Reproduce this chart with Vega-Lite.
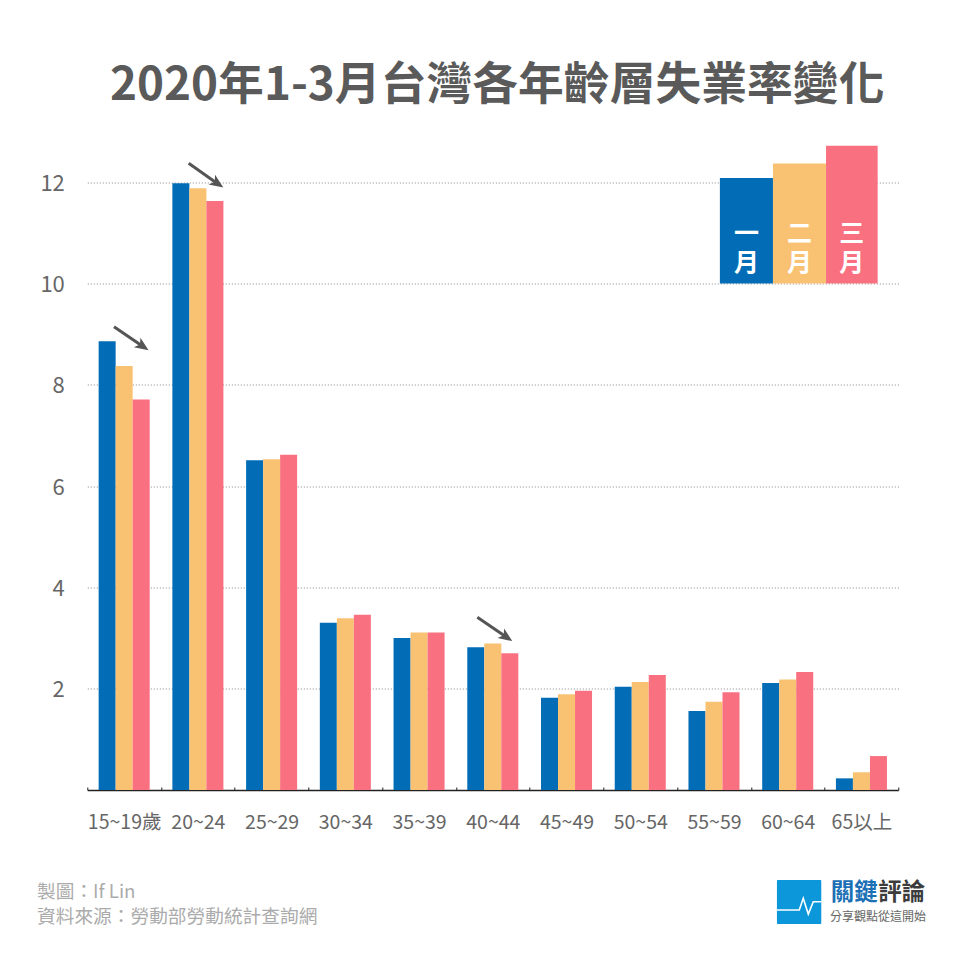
{
"$schema":"https://vega.github.io/schema/vega-lite/v6.json",
"width":811,"height":658.5,"autosize":{"type":"none"},
"padding":{"left":87.3,"top":131.5,"right":61.7,"bottom":170},
"background":"white",
"config":{"font":"Noto Sans CJK TC","view":{"stroke":null}},
"title":{"text":"2020年1-3月台灣各年齡層失業率變化","anchor":"start","frame":"group","dx":22.7,"offset":22,"fontSize":45.8,"fontWeight":"bold","color":"#5A5A5A","font":"Noto Sans CJK TC"},
"datasets":{
"bars":[
{"age":"15~19歲","month":"一月","rate":8.86},{"age":"15~19歲","month":"二月","rate":8.37},{"age":"15~19歲","month":"三月","rate":7.71},
{"age":"20~24","month":"一月","rate":11.98},{"age":"20~24","month":"二月","rate":11.88},{"age":"20~24","month":"三月","rate":11.63},
{"age":"25~29","month":"一月","rate":6.51},{"age":"25~29","month":"二月","rate":6.53},{"age":"25~29","month":"三月","rate":6.62},
{"age":"30~34","month":"一月","rate":3.30},{"age":"30~34","month":"二月","rate":3.39},{"age":"30~34","month":"三月","rate":3.46},
{"age":"35~39","month":"一月","rate":3.00},{"age":"35~39","month":"二月","rate":3.11},{"age":"35~39","month":"三月","rate":3.11},
{"age":"40~44","month":"一月","rate":2.82},{"age":"40~44","month":"二月","rate":2.89},{"age":"40~44","month":"三月","rate":2.70},
{"age":"45~49","month":"一月","rate":1.82},{"age":"45~49","month":"二月","rate":1.89},{"age":"45~49","month":"三月","rate":1.96},
{"age":"50~54","month":"一月","rate":2.04},{"age":"50~54","month":"二月","rate":2.13},{"age":"50~54","month":"三月","rate":2.27},
{"age":"55~59","month":"一月","rate":1.56},{"age":"55~59","month":"二月","rate":1.74},{"age":"55~59","month":"三月","rate":1.93},
{"age":"60~64","month":"一月","rate":2.11},{"age":"60~64","month":"二月","rate":2.18},{"age":"60~64","month":"三月","rate":2.33},
{"age":"65以上","month":"一月","rate":0.23},{"age":"65以上","month":"二月","rate":0.35},{"age":"65以上","month":"三月","rate":0.67}],
"key":[
{"month":"一月","a":8.58,"b":9.30,"lo":10,"hi":12.08},
{"month":"二月","a":9.30,"b":10.02,"lo":10,"hi":12.37},
{"month":"三月","a":10.02,"b":10.72,"lo":10,"hi":12.72}],
"keyText":[
{"t":"一","a":8.94,"v":10.97},{"t":"月","a":8.94,"v":10.4},
{"t":"二","a":9.66,"v":10.97},{"t":"月","a":9.66,"v":10.4},
{"t":"三","a":10.37,"v":10.97},{"t":"月","a":10.37,"v":10.4}],
"arrows":[
{"a":0.362,"v":9.147,"a2":0.745,"v2":8.766},
{"a":1.375,"v":12.373,"a2":1.758,"v2":11.98},
{"a":5.29,"v":3.41,"a2":5.678,"v2":3.026}],
"foot":[{"t":"製圖：If Lin","a":-0.682,"v":-2.014},{"t":"資料來源：勞動部勞動統計查詢網","a":-0.682,"v":-2.507}],
"logo":[{"a":9.354,"a2":9.955,"v":-1.777,"v2":-2.646}],
"pulse":[{"i":0,"a":9.354,"v":-2.369},{"i":1,"a":9.657,"v":-2.369},{"i":2,"a":9.711,"v":-2.139},{"i":3,"a":9.779,"v":-2.449},{"i":4,"a":9.847,"v":-2.206},{"i":5,"a":9.955,"v":-2.206}]
},
"layer":[
{"data":{"name":"bars"},"mark":{"type":"bar"},
"encoding":{
"x":{"field":"age","type":"nominal","sort":null,"scale":{"paddingInner":0,"paddingOuter":0},
"axis":{"title":null,"labelAngle":0,"labelFontSize":19.5,"labelColor":"#666666","labelPadding":26,"domainColor":"#222222","domainWidth":1.5,"tickBand":"extent","tickColor":"#222222","tickSize":-3,"grid":false}},
"xOffset":{"field":"month","sort":["一月","二月","三月"],"scale":{"paddingInner":0,"paddingOuter":0.667}},
"y":{"field":"rate","type":"quantitative","scale":{"domain":[0,13],"nice":false},
"axis":{"title":null,"values":[2,4,6,8,10,12],"domain":false,"ticks":false,"labelFontSize":22,"labelColor":"#666666","labelPadding":23,"labelOffset":1,"grid":true,"gridColor":"#888888","gridDash":[1,2],"gridWidth":1}},
"color":{"field":"month","scale":{"domain":["一月","二月","三月"],"range":["#026DB6","#F9C273","#F97080"]},"legend":null}}},
{"data":{"name":"key"},"mark":{"type":"bar"},
"encoding":{
"x":{"field":"a","type":"quantitative","scale":{"domain":[0,11],"nice":false,"zero":false},"axis":null},
"x2":{"field":"b"},
"y":{"field":"lo","type":"quantitative"},
"y2":{"field":"hi"},
"color":{"field":"month","legend":null}}},
{"data":{"name":"keyText"},"mark":{"type":"text","fontSize":25,"color":"white","fontWeight":"bold","align":"center","baseline":"middle"},
"encoding":{"x":{"field":"a","type":"quantitative","scale":{"domain":[0,11],"nice":false,"zero":false},"axis":null},"y":{"field":"v","type":"quantitative"},"text":{"field":"t"}}},
{"data":{"name":"arrows"},"mark":{"type":"rule","color":"#555555","strokeWidth":3},
"encoding":{"x":{"field":"a","type":"quantitative","scale":{"domain":[0,11],"nice":false,"zero":false},"axis":null},"x2":{"field":"a2"},"y":{"field":"v","type":"quantitative"},"y2":{"field":"v2"}}},
{"data":{"name":"arrows"},"mark":{"type":"point","filled":true,"opacity":1,"color":"#555555","size":240,"angle":124.6,"shape":"M0,-1L0.75,0.8L0,0.35L-0.75,0.8Z"},
"encoding":{"x":{"field":"a2","type":"quantitative","scale":{"domain":[0,11],"nice":false,"zero":false},"axis":null},"y":{"field":"v2","type":"quantitative"}}},
{"data":{"name":"foot"},"mark":{"type":"text","fontSize":18.7,"color":"#ABABAB","align":"left","baseline":"middle"},
"encoding":{"x":{"field":"a","type":"quantitative","scale":{"domain":[0,11],"nice":false,"zero":false},"axis":null},"y":{"field":"v","type":"quantitative"},"text":{"field":"t"}}},
{"data":{"name":"logo"},"mark":{"type":"rect","color":"#0B97DA","cornerRadius":1},
"encoding":{"x":{"field":"a","type":"quantitative","scale":{"domain":[0,11],"nice":false,"zero":false},"axis":null},"x2":{"field":"a2"},"y":{"field":"v","type":"quantitative"},"y2":{"field":"v2"}}},
{"data":{"name":"pulse"},"mark":{"type":"line","color":"white","strokeWidth":1.6},
"encoding":{"x":{"field":"a","type":"quantitative","scale":{"domain":[0,11],"nice":false,"zero":false},"axis":null},"y":{"field":"v","type":"quantitative"},"order":{"field":"i"}}},
{"data":{"values":[{"t":"關鍵","a":10.083,"v":-2.04}]},"mark":{"type":"text","fontSize":23.5,"fontWeight":"bold","color":"#1A6FB5","align":"left","baseline":"middle"},
"encoding":{"x":{"field":"a","type":"quantitative","scale":{"domain":[0,11],"nice":false,"zero":false},"axis":null},"y":{"field":"v","type":"quantitative"},"text":{"field":"t"}}},
{"data":{"values":[{"t":"評論","a":10.728,"v":-2.04}]},"mark":{"type":"text","fontSize":23.5,"fontWeight":"bold","color":"#3C3C3C","align":"left","baseline":"middle"},
"encoding":{"x":{"field":"a","type":"quantitative","scale":{"domain":[0,11],"nice":false,"zero":false},"axis":null},"y":{"field":"v","type":"quantitative"},"text":{"field":"t"}}},
{"data":{"values":[{"t":"分享觀點從這開始","a":10.073,"v":-2.514}]},"mark":{"type":"text","fontSize":12,"color":"#666666","align":"left","baseline":"middle"},
"encoding":{"x":{"field":"a","type":"quantitative","scale":{"domain":[0,11],"nice":false,"zero":false},"axis":null},"y":{"field":"v","type":"quantitative"},"text":{"field":"t"}}}
],
"resolve":{"scale":{"x":"independent","xOffset":"independent"}}
}
